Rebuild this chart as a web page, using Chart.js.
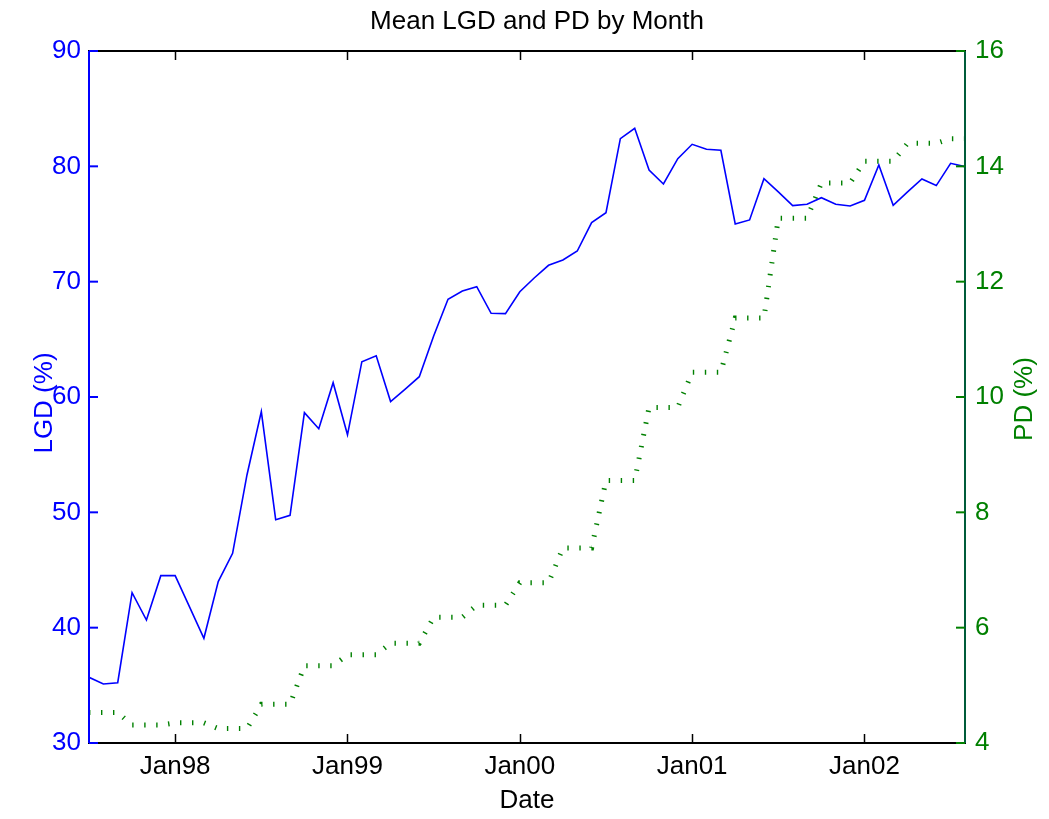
<!DOCTYPE html>
<html>
<head>
<meta charset="utf-8">
<title>Mean LGD and PD by Month</title>
<script src="https://cdn.jsdelivr.net/npm/chart.js@4.4.1/dist/chart.umd.min.js"></script>
<style>
    html, body { margin: 0; padding: 0; background: #fff; }
    #wrap { width: 1049px; height: 819px; }
</style>
</head>
<body>
<div id="wrap"><canvas id="lgdPd" width="1049" height="819"></canvas></div>
<script>
// monthly series, Jul 1997 .. Aug 2002 (x = month index, 0 = Jul97)
const lgdValues = [
    35.70, 35.12, 35.23, 43.03, 40.66, 44.51, 44.51, 41.80, 39.08, 43.99,
    46.45, 53.24, 58.73, 49.36, 49.74, 58.64, 57.25, 61.24, 56.72, 63.06,
    63.58, 59.60, 60.67, 61.76, 65.29, 68.47, 69.19, 69.57, 67.26, 67.23,
    69.13, 70.32, 71.42, 71.88, 72.66, 75.12, 75.98, 82.40, 83.30, 79.68,
    78.47, 80.66, 81.91, 81.48, 81.39, 75.00, 75.35, 78.93, 77.78, 76.59,
    76.71, 77.28, 76.71, 76.56, 77.05, 80.12, 76.62, 77.78, 78.90, 78.33,
    80.26, 79.97
];
const pdValues = [
    4.53, 4.53, 4.53, 4.31, 4.31, 4.31, 4.35, 4.35, 4.35, 4.25,
    4.25, 4.25, 4.67, 4.67, 4.67, 5.34, 5.34, 5.34, 5.53, 5.53,
    5.53, 5.73, 5.73, 5.73, 6.18, 6.18, 6.18, 6.39, 6.39, 6.39,
    6.78, 6.78, 6.78, 7.38, 7.38, 7.38, 8.55, 8.55, 8.55, 9.82,
    9.82, 9.82, 10.43, 10.43, 10.43, 11.37, 11.37, 11.37, 13.10, 13.10,
    13.10, 13.71, 13.71, 13.71, 14.09, 14.09, 14.09, 14.40, 14.40, 14.40,
    14.48, 14.48
];
const tickMonths = [6, 18, 30, 42, 54];
const tickLabels = ['Jan98', 'Jan99', 'Jan00', 'Jan01', 'Jan02'];

const BLUE = '#0000ff';
const GREEN = '#008000';
const GREEN_AXIS = '#005c3a';
const FONT = "'Liberation Sans', Arial, Helvetica, sans-serif";

Chart.defaults.font.family = FONT;
Chart.defaults.font.size = 26;

// title, box, inward tick marks and both y-axis labels
const axesFrame = {
    id: 'axesFrame',
    afterDraw(chart) {
        const {ctx, chartArea: a, scales} = chart;
        const tick = 9;
        ctx.save();
        ctx.lineWidth = 2;
        ctx.lineCap = 'butt';

        const seg = (x1, y1, x2, y2, color) => {
            ctx.strokeStyle = color;
            ctx.beginPath();
            ctx.moveTo(x1, y1);
            ctx.lineTo(x2, y2);
            ctx.stroke();
        };

        seg(a.left - 1, a.top, a.right + 1, a.top, '#000');
        seg(a.left - 1, a.bottom, a.right + 1, a.bottom, '#000');
        seg(a.left, a.top, a.left, a.bottom, BLUE);
        seg(a.right, a.top, a.right, a.bottom, GREEN_AXIS);

        ctx.lineWidth = 1.5;
        scales.x.ticks.forEach(t => {
            const px = Math.round(scales.x.getPixelForValue(t.value)) + 0.5;
            seg(px, a.bottom, px, a.bottom - tick, '#000');
            seg(px, a.top, px, a.top + tick, '#000');
        });
        ctx.lineWidth = 2;
        scales.y.ticks.forEach(t => {
            const py = scales.y.getPixelForValue(t.value);
            seg(a.left, py, a.left + tick, py, BLUE);
        });
        scales.y2.ticks.forEach(t => {
            const py = scales.y2.getPixelForValue(t.value);
            seg(a.right - tick, py, a.right, py, GREEN);
        });

        ctx.font = '26px ' + FONT;
        ctx.textAlign = 'center';
        ctx.textBaseline = 'middle';

        ctx.fillStyle = '#000';
        ctx.fillText('Mean LGD and PD by Month', 537, 22);

        // both y labels read bottom-to-top
        const sideLabel = (text, x, y, color) => {
            ctx.save();
            ctx.fillStyle = color;
            ctx.translate(x, y);
            ctx.rotate(-Math.PI / 2);
            ctx.fillText(text, 0, 0);
            ctx.restore();
        };
        sideLabel('LGD (%)', 45, 403, BLUE);
        sideLabel('PD (%)', 1025, 399, GREEN);
        ctx.restore();
    }
};

new Chart(document.getElementById('lgdPd').getContext('2d'), {
    type: 'line',
    data: {
        datasets: [{
            label: 'LGD',
            data: lgdValues.map((v, i) => ({x: i, y: v})),
            yAxisID: 'y',
            borderColor: BLUE,
            borderWidth: 1.6,
            pointRadius: 0,
            tension: 0
        }, {
            label: 'PD',
            data: pdValues.map((v, i) => ({x: i, y: v})),
            yAxisID: 'y2',
            borderColor: GREEN,
            borderWidth: 5,
            borderDash: [1.4, 10.6],
            borderCapStyle: 'butt',
            pointRadius: 0,
            tension: 0
        }]
    },
    options: {
        responsive: false,
        devicePixelRatio: 1,
        animation: false,
        layout: { padding: { top: 51 } },
        plugins: {
            legend: { display: false },
            tooltip: { enabled: false },
            title: { display: false }
        },
        scales: {
            x: {
                type: 'linear',
                min: 0,
                max: lgdValues.length - 1,
                grid: { display: false, drawTicks: false },
                border: { display: false },
                afterBuildTicks: (scale) => {
                    scale.ticks = tickMonths.map(v => ({value: v}));
                },
                afterFit: (scale) => { scale.height = 76; },
                ticks: {
                    color: '#000',
                    padding: 8,
                    maxRotation: 0,
                    autoSkip: false,
                    callback: (value, index) => tickLabels[index]
                },
                title: {
                    display: true,
                    text: 'Date',
                    color: '#000',
                    padding: { top: 0, bottom: 3 }
                }
            },
            y: {
                position: 'left',
                min: 30,
                max: 90,
                grid: { display: false, drawTicks: false },
                border: { display: false },
                afterFit: (scale) => { scale.width = 89; },
                ticks: { stepSize: 10, color: BLUE, padding: 8 }
            },
            y2: {
                position: 'right',
                min: 4,
                max: 16,
                grid: { display: false, drawTicks: false },
                border: { display: false },
                afterFit: (scale) => { scale.width = 84; },
                ticks: { stepSize: 2, color: GREEN, padding: 10 }
            }
        }
    },
    plugins: [axesFrame]
});
</script>
</body>
</html>
